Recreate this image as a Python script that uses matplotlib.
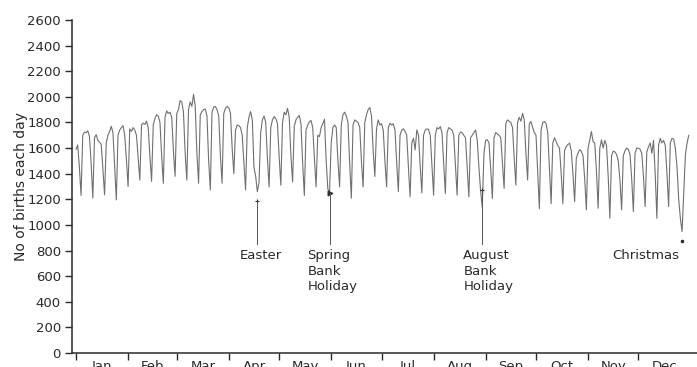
import matplotlib
matplotlib.use("Agg")
import matplotlib.pyplot as plt
import numpy as np

# Daily births, 1976 (leap year)
jan = [1590, 1625, 1450, 1230, 1700, 1725, 1720, 1735, 1690, 1480, 1210, 1680, 1705, 1660, 1645, 1630,
       1440, 1235, 1640, 1700, 1730, 1770, 1720, 1460, 1195, 1700, 1740, 1760, 1775, 1700, 1510]
feb = [1300, 1750, 1730, 1760, 1740, 1700, 1520, 1350, 1780, 1795, 1785, 1810, 1760, 1540, 1340,
       1780, 1830, 1860, 1850, 1800, 1540, 1325, 1840, 1890, 1870, 1880, 1840, 1580, 1380]
mar = [1870, 1900, 1970, 1960, 1880, 1560, 1350, 1900, 1960, 1925, 2020, 1930, 1560, 1325, 1860, 1885,
       1900, 1905, 1850, 1500, 1273, 1880, 1920, 1925, 1900, 1850, 1540, 1326, 1870, 1910, 1925]
apr = [1915, 1870, 1600, 1400, 1740, 1780, 1775, 1760, 1700, 1480, 1273, 1760, 1840, 1885, 1820,
       1450, 1380, 1260, 1330, 1720, 1820, 1850, 1800, 1520, 1297, 1760, 1820, 1846, 1830, 1790]
may = [1530, 1310, 1800, 1880, 1860, 1910, 1840, 1540, 1336, 1770, 1820, 1840, 1855, 1790, 1480, 1230,
       1740, 1780, 1805, 1815, 1760, 1520, 1297, 1700, 1690, 1760, 1790, 1825, 1500, 1280, 1250]
jun = [1640, 1760, 1781, 1760, 1500, 1297, 1780, 1860, 1880, 1850, 1800, 1480, 1208, 1780, 1820,
       1810, 1800, 1760, 1500, 1297, 1800, 1860, 1900, 1917, 1850, 1580, 1378, 1750, 1820, 1780]
jul = [1790, 1740, 1500, 1297, 1760, 1794, 1780, 1790, 1740, 1490, 1260, 1700, 1740, 1750, 1730, 1700,
       1450, 1220, 1640, 1677, 1586, 1742, 1700, 1460, 1250, 1700, 1740, 1750, 1745, 1700, 1470]
aug = [1232, 1700, 1760, 1750, 1768, 1720, 1480, 1245, 1720, 1760, 1750, 1740, 1700, 1470, 1232, 1700,
       1726, 1720, 1700, 1680, 1450, 1219, 1680, 1700, 1720, 1742, 1660, 1450, 1265, 1140, 1560]
sep = [1660, 1665, 1640, 1440, 1206, 1680, 1721, 1710, 1700, 1680, 1480, 1285, 1790, 1820, 1810,
       1800, 1760, 1520, 1311, 1800, 1840, 1810, 1871, 1820, 1560, 1351, 1790, 1808, 1760, 1721]
oct_ = [1700, 1420, 1127, 1740, 1800, 1808, 1790, 1720, 1440, 1166, 1640, 1681, 1650, 1620, 1600, 1400,
        1166, 1580, 1610, 1628, 1638, 1580, 1400, 1182, 1520, 1560, 1588, 1575, 1540, 1360, 1117]
nov = [1600, 1660, 1729, 1650, 1640, 1420, 1130, 1600, 1664, 1600, 1660, 1620, 1380, 1052, 1540,
       1576, 1570, 1550, 1500, 1350, 1117, 1540, 1580, 1600, 1590, 1550, 1360, 1104, 1560, 1600]
dec = [1600, 1590, 1560, 1380, 1143, 1570, 1610, 1640, 1560, 1660, 1400, 1052, 1620, 1676, 1640, 1660,
       1620, 1400, 1143, 1640, 1676, 1670, 1600, 1450, 1200, 1050, 948, 1250, 1550, 1640, 1700]

month_labels = ["Jan", "Feb", "Mar", "Apr", "May", "Jun", "Jul", "Aug", "Sep", "Oct", "Nov", "Dec"]
month_data = [jan, feb, mar, apr, may, jun, jul, aug, sep, oct_, nov, dec]

# Annotated holidays
events = ["Easter", "Spring\nBank\nHoliday", "August\nBank\nHoliday", "Christmas"]
event_days = [108, 151, 242, 361]
event_marks = [1190, 1250, 1272, 874]

births = np.concatenate([np.array(m, dtype=float) for m in month_data])
days = np.arange(len(births))
lengths = [len(m) for m in month_data]
starts = np.concatenate([[0], np.cumsum(lengths)[:-1]])
mids = starts + np.array(lengths) / 2.0

fig = plt.figure(figsize=(6.97, 3.67), dpi=100)
ax = fig.add_axes([72 / 697, 14 / 367, 625 / 697, 333 / 367])

ink = "#2a2a2a"
ax.plot(days, births, color="#707070", lw=0.8)

ax.set_xlim(-2.4, 369.9)
ax.set_ylim(0, 2600)
ax.set_yticks(np.arange(0, 2601, 200))
ax.tick_params(axis="y", direction="out", length=5, width=1, color=ink,
               labelsize=9.5, labelcolor=ink, pad=3)

ax.set_xticks(starts)
ax.set_xticklabels([])
ax.set_xticks(mids, minor=True)
ax.set_xticklabels(month_labels, minor=True)
ax.tick_params(axis="x", which="major", direction="out", length=5, width=1, color=ink)
ax.tick_params(axis="x", which="minor", length=0, labelsize=9.5, labelcolor=ink, pad=5)

for s in ["top", "right"]:
    ax.spines[s].set_visible(False)
for s in ["left", "bottom"]:
    ax.spines[s].set_color(ink)
    ax.spines[s].set_linewidth(1.1)

ax.set_ylabel("No of births each day", fontsize=10, color=ink)
ax.yaxis.set_label_coords(-0.071, 0.5)

# annotations
line_bottom = 850
text_top = 812
text_x = [97.3, 137.8, 230.7, 319.5]
marks = ["+", ">", "+", "."]
for lab, d, mv, tx, mk in zip(events, event_days, event_marks, text_x, marks):
    ax.plot([d], [mv], marker=mk, color=ink, ms=3.5, mew=0.8)
    if lab != "Christmas":
        ax.plot([d, d], [mv, line_bottom], color="#555555", lw=0.7)
    ax.text(tx, text_top, lab, ha="left", va="top", fontsize=9.5, color=ink,
            linespacing=1.25)

fig.savefig("out.png", dpi=100)
